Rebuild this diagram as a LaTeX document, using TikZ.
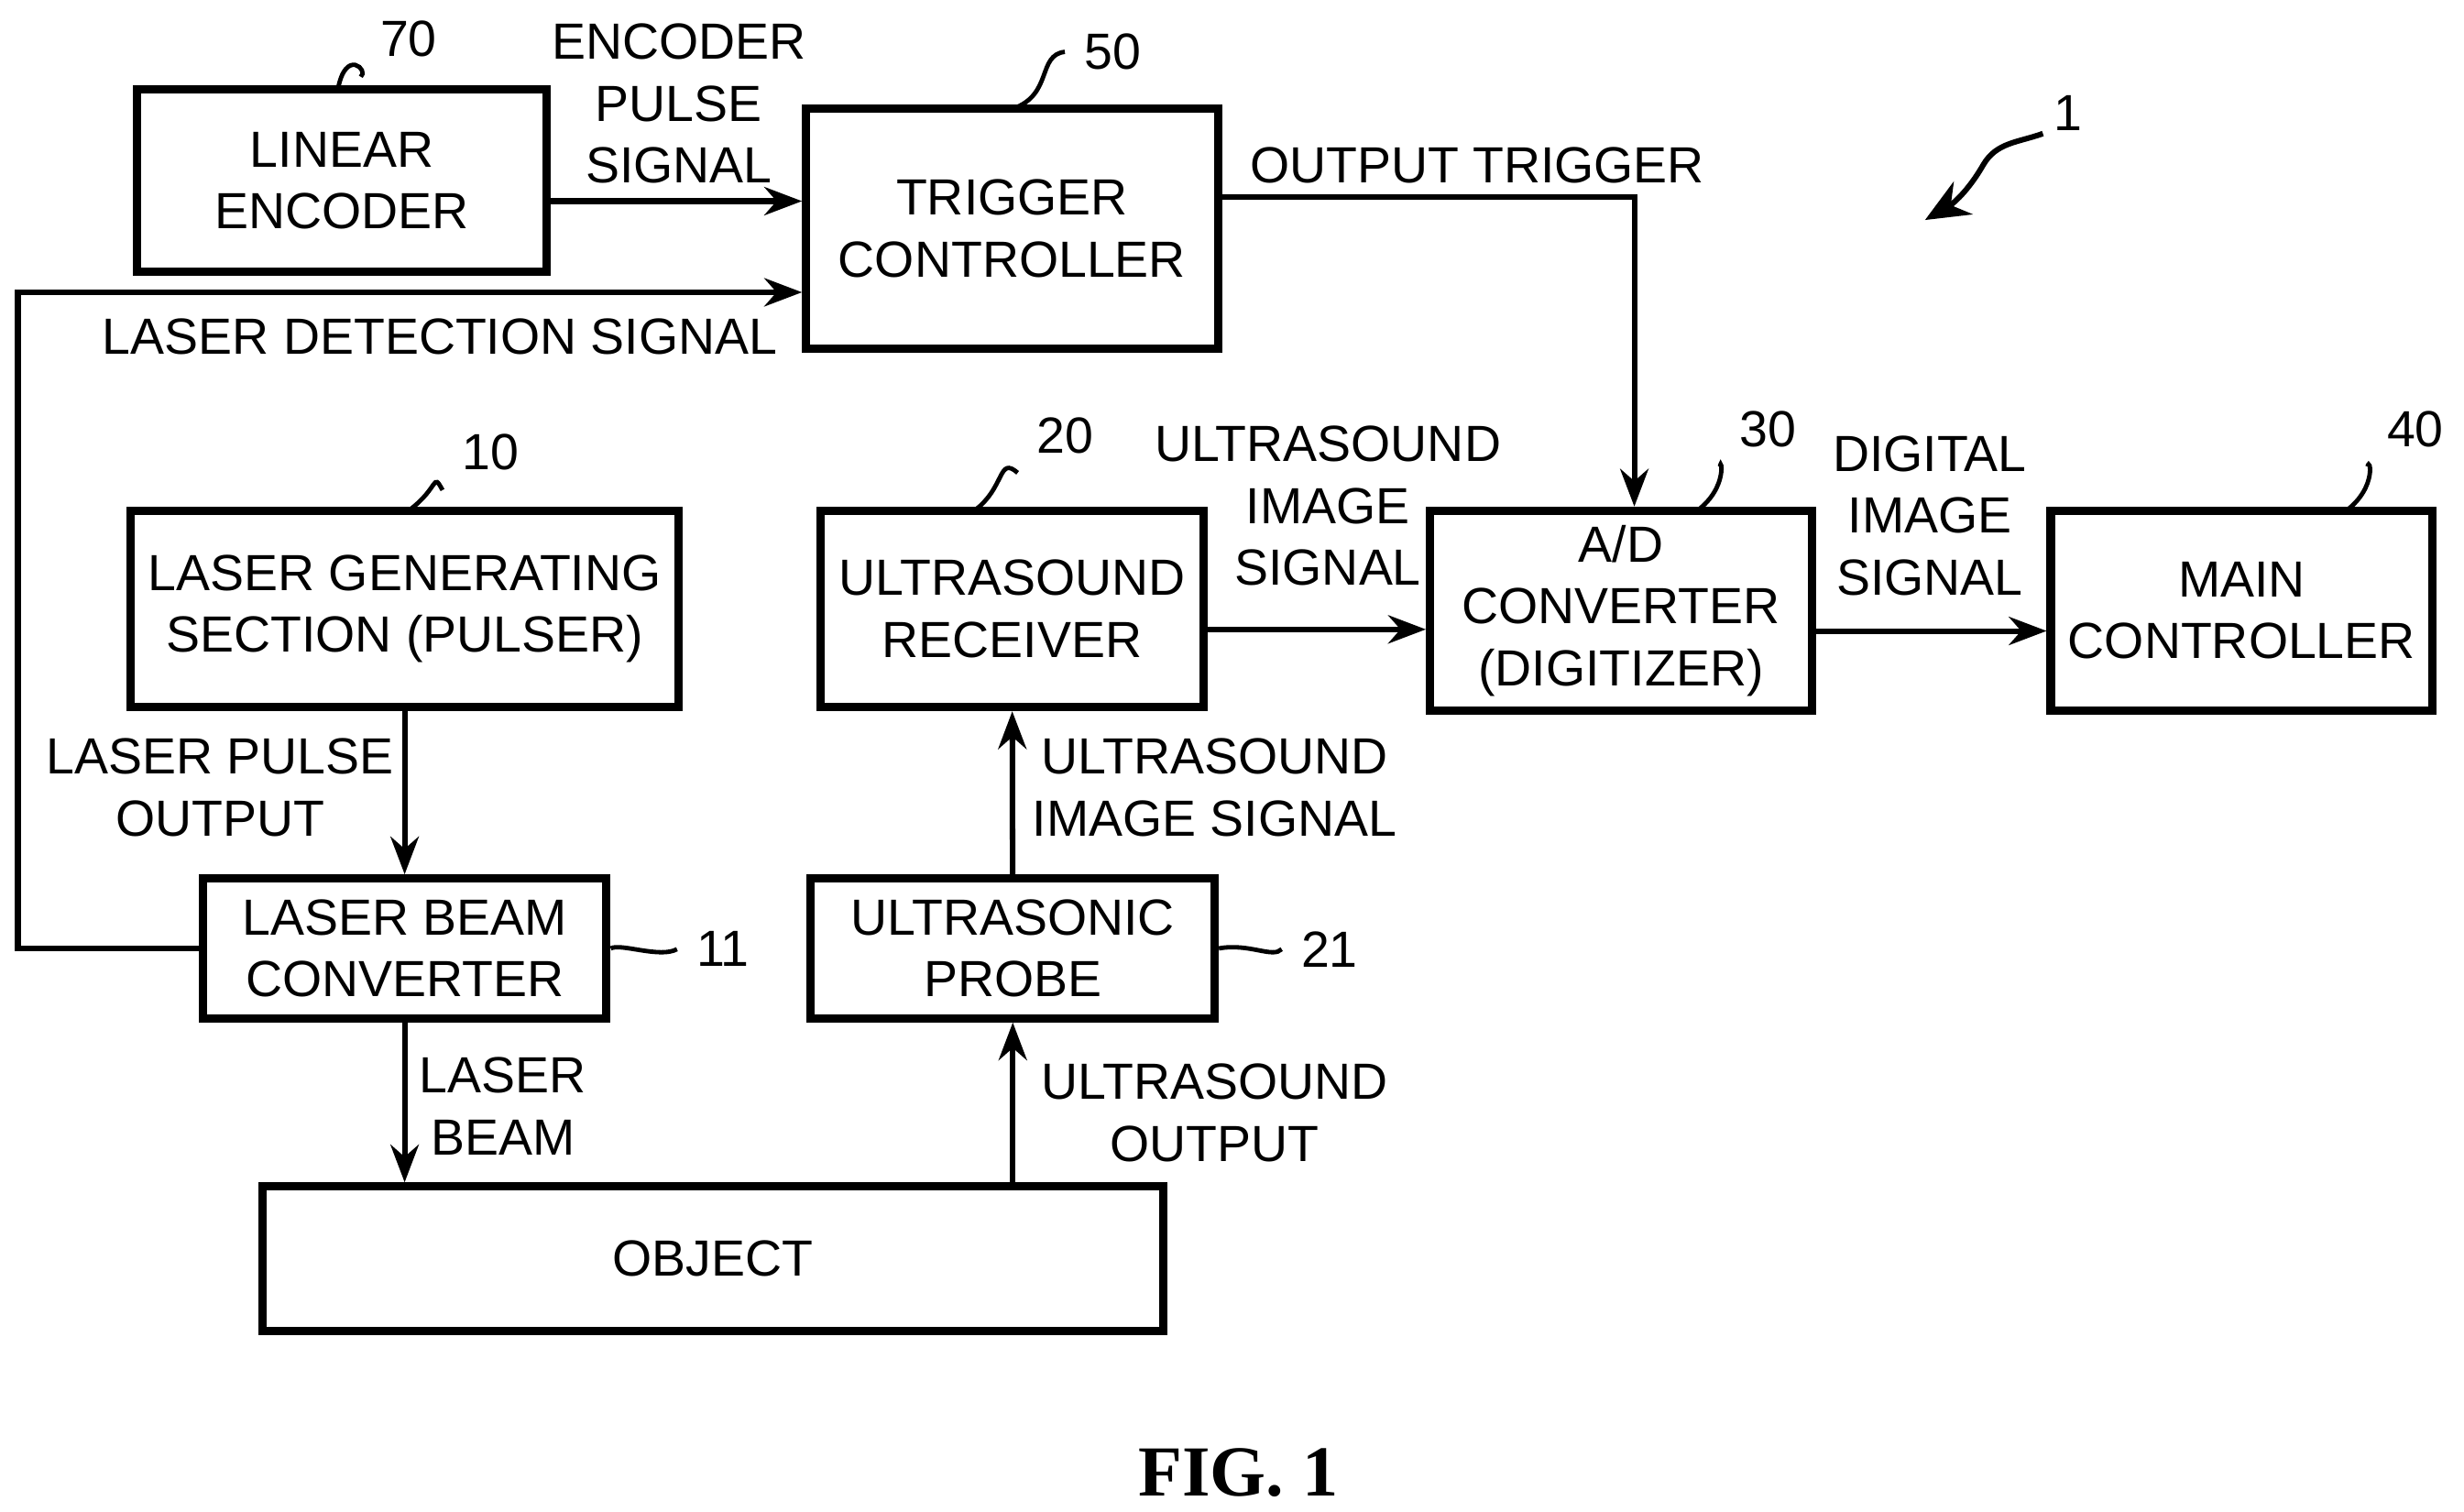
\documentclass[tikz,border=0pt]{standalone}
\usepackage{fontspec}
\setmainfont{Liberation Sans}
\usetikzlibrary{arrows.meta,positioning,calc}

\begin{document}
\begin{tikzpicture}[
  box/.style={draw,line width=1.5pt,rectangle,align=center,inner sep=0pt},
  sig/.style={line width=1pt,-{Stealth[length=2.4mm,width=1.8mm]}},
  lbl/.style={align=center,inner sep=0pt},
  lead/.style={line width=0.8pt},
  every node/.style={font=\fontsize{9.2}{11.2}\selectfont}
]
\useasboundingbox (0,0) rectangle (15.68,-9.62);

% Blocks
\node[box,minimum width=2.61cm,minimum height=1.16cm] (enc) at (2.175,-1.15) {LINEAR\\ENCODER};
\node[box,minimum width=2.62cm,minimum height=1.53cm] (trig) at (6.44,-1.455) {TRIGGER\\CONTROLLER};
\node[box,minimum width=3.49cm,minimum height=1.25cm] (lgen) at (2.575,-3.875) {LASER GENERATING\\SECTION (PULSER)};
\node[box,minimum width=2.44cm,minimum height=1.25cm] (urec) at (6.44,-3.875) {ULTRASOUND\\RECEIVER};
\node[box,minimum width=2.43cm,minimum height=1.27cm] (ad) at (10.315,-3.885) {A/D\\CONVERTER\\(DIGITIZER)};
\node[box,minimum width=2.43cm,minimum height=1.27cm] (main) at (14.265,-3.885) {MAIN\\CONTROLLER};
\node[box,minimum width=2.57cm,minimum height=0.89cm] (lbc) at (2.575,-6.035) {LASER BEAM\\CONVERTER};
\node[box,minimum width=2.57cm,minimum height=0.89cm] (probe) at (6.445,-6.035) {ULTRASONIC\\PROBE};
\node[box,minimum width=5.73cm,minimum height=0.92cm] (obj) at (4.535,-8.01) {OBJECT};

% Signals
\draw[sig] ([yshift=-0.13cm]enc.east) -- ([yshift=-0.13cm]enc.east -| trig.west);
\node[lbl] (encsig) at (4.32,-0.66) {ENCODER\\PULSE\\SIGNAL};
\draw[sig] (lbc.west) -- ++(-1.15,0) |- ([yshift=-0.405cm]trig.west);
\node[lbl] (detsig) at (2.8,-2.14) {LASER DETECTION SIGNAL};
\draw[sig] ([yshift=0.2cm]trig.east) -| ([xshift=0.085cm]ad.north);
\node[lbl] (outtrig) at (9.4,-1.05) {OUTPUT TRIGGER};
\draw[sig] (lgen) -- (lbc);
\node[lbl] (lpo) at (1.4,-5.01) {LASER PULSE\\OUTPUT};
\draw[sig] (lbc.south) -- (lbc.south |- obj.north);
\node[lbl] (lbeam) at (3.2,-7.04) {LASER\\BEAM};
\draw[sig] (obj.north -| probe.south) -- (probe.south);
\node[lbl] (uout) at (7.73,-7.08) {ULTRASOUND\\OUTPUT};
\draw[sig] (probe) -- (urec);
\node[lbl] (uimg) at (7.73,-5.01) {ULTRASOUND\\IMAGE SIGNAL};
\draw[sig] ([yshift=-0.13cm]urec.east) -- ([yshift=-0.13cm]urec.east -| ad.west);
\node[lbl] (uimg2) at (8.45,-3.22) {ULTRASOUND\\IMAGE\\SIGNAL};
\draw[sig] ([yshift=-0.13cm]ad.east) -- ([yshift=-0.13cm]ad.east -| main.west);
\node[lbl] (dimg) at (12.28,-3.28) {DIGITAL\\IMAGE\\SIGNAL};

% Reference numerals
\node (n70) at (2.6,-0.25) {70};
\draw[lead] (2.15,-0.57) .. controls (2.2,-0.3) and (2.35,-0.45) .. (n70.south west);
\node (n50) at (7.08,-0.33) {50};
\draw[lead] (6.45,-0.69) .. controls (6.7,-0.6) and (6.6,-0.35) .. (n50.west);
\node (n10) at (3.12,-2.88) {10};
\draw[lead] (2.6,-3.25) .. controls (2.8,-3.1) and (2.75,-3.0) .. (n10.south west);
\node (n20) at (6.78,-2.77) {20};
\draw[lead] (6.2,-3.25) .. controls (6.4,-3.1) and (6.35,-2.9) .. (n20.south west);
\node (n30) at (11.25,-2.73) {30};
\draw[lead] (10.8,-3.25) .. controls (11.0,-3.1) and (10.95,-2.9) .. (n30.south west);
\node (n40) at (15.37,-2.73) {40};
\draw[lead] (14.93,-3.25) .. controls (15.13,-3.1) and (15.08,-2.9) .. (n40.south west);
\node (n11) at (4.6,-6.04) {11};
\draw[lead] (lbc.east) .. controls (3.95,-6.0) and (4.2,-6.1) .. (n11.west);
\node (n21) at (8.46,-6.04) {21};
\draw[lead] (probe.east) .. controls (7.95,-6.0) and (8.1,-6.1) .. (n21.west);
\node (n1) at (13.16,-0.72) {1};
\draw[line width=1pt,-{Stealth[length=2.8mm,width=2.4mm]}] (13.0,-0.85) to[out=200,in=60] (12.62,-1.05) to[out=240,in=30] (12.25,-1.4);

\node[font=\fontspec{Liberation Serif}\bfseries\fontsize{13}{15}\selectfont] (fig) at (7.88,-9.37) {FIG. 1};
\end{tikzpicture}
\end{document}
